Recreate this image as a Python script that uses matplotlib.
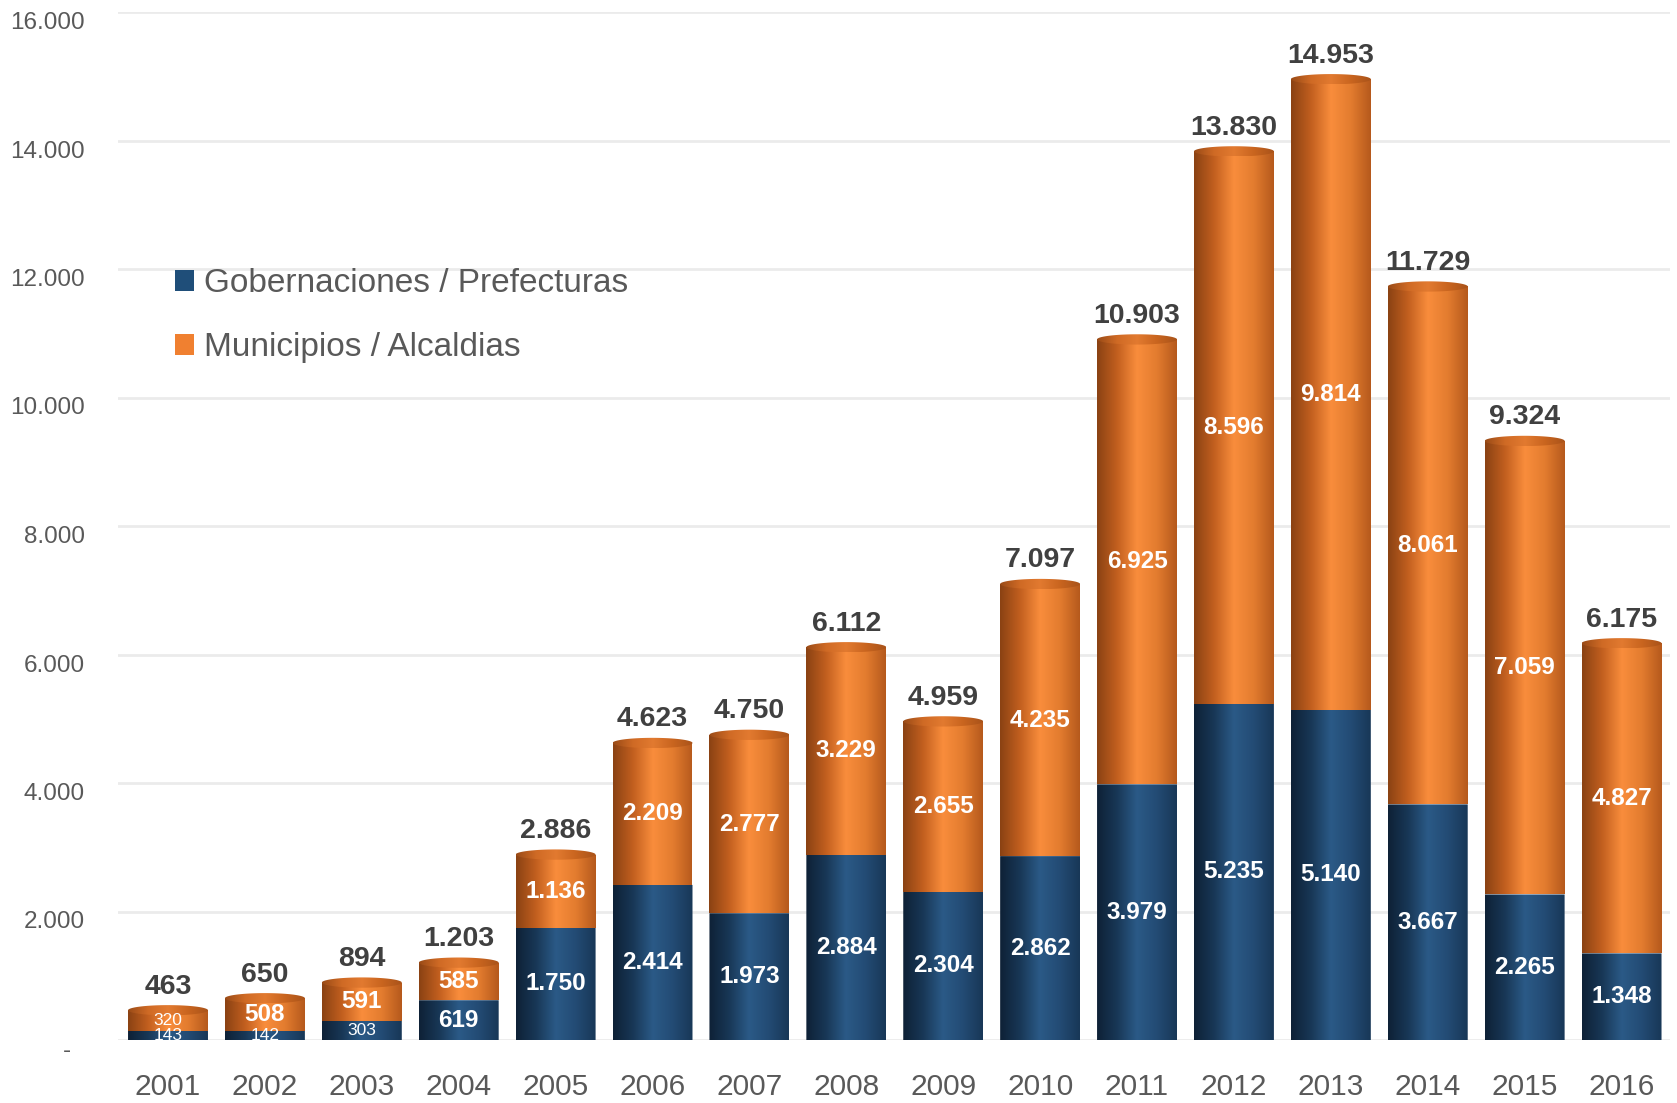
import matplotlib
matplotlib.use("Agg")
import matplotlib.pyplot as plt
import matplotlib.colors as mcolors
import matplotlib.transforms as mtrans
from matplotlib.patches import Polygon, Patch
from matplotlib.ticker import FuncFormatter
import numpy as np

# datos
anios = ['2001', '2002', '2003', '2004', '2005', '2006', '2007', '2008',
         '2009', '2010', '2011', '2012', '2013', '2014', '2015', '2016']
gobernaciones = [143, 142, 303, 619, 1750, 2414, 1973, 2884,
                 2304, 2862, 3979, 5235, 5140, 3667, 2265, 1348]
municipios = [320, 508, 591, 585, 1136, 2209, 2777, 3229,
              2655, 4235, 6925, 8596, 9814, 8061, 7059, 4827]
totales = [463, 650, 894, 1203, 2886, 4623, 4750, 6112,
           4959, 7097, 10903, 13830, 14953, 11729, 9324, 6175]
series_nombres = ['Gobernaciones / Prefecturas', 'Municipios / Alcaldias']

plt.rcParams['font.family'] = ['Liberation Sans', 'DejaVu Sans']

cmap_azul = mcolors.LinearSegmentedColormap.from_list(
    'azul', ['#0E2136', '#183756', '#2B5A87', '#234B74', '#183757'])
cmap_naranja = mcolors.LinearSegmentedColormap.from_list(
    'naranja', ['#8A4213', '#C25F1F', '#F98D3C', '#E37C2F', '#B5591C'])
cmap_tapa = mcolors.LinearSegmentedColormap.from_list(
    'tapa', ['#9A4B17', '#CF6A25', '#E27A30', '#C9651F', '#A9531A'])

fig = plt.figure(figsize=(16.77, 11.03), dpi=100)
ax = fig.add_axes([118 / 1677, 1 - 1040 / 1103, (1670 - 118) / 1677, (1040 - 12) / 1103])

ancho = 0.825
eh = 80  # semi-altura de las elipses (unidades de datos)
grad = np.linspace(0, 1, 256).reshape(1, -1)
t = np.linspace(np.pi, 2 * np.pi, 60)


def cilindro(xc, y0, y1, cmap, con_fondo, z):
    x0, x1 = xc - ancho / 2, xc + ancho / 2
    if con_fondo:
        bx = xc + ancho / 2 * np.cos(t)
        by = y0 + eh * np.sin(t)
        pts = np.column_stack([bx, by])
        pts = np.vstack([pts, [[x1, y1], [x0, y1]]])
        ybot = y0 - eh
    else:
        pts = np.array([[x0, y0], [x1, y0], [x1, y1], [x0, y1]])
        ybot = y0
    clip = Polygon(pts, closed=True, transform=ax.transData)
    im = ax.imshow(grad, extent=[x0, x1, ybot, y1], aspect='auto',
                   cmap=cmap, interpolation='bicubic', zorder=z)
    im.set_clip_path(clip)


def tapa(xc, y, z):
    tt = np.linspace(0, 2 * np.pi, 100)
    pts = np.column_stack([xc + ancho / 2 * np.cos(tt), y + eh * np.sin(tt)])
    clip = Polygon(pts, closed=True, transform=ax.transData)
    im = ax.imshow(grad, extent=[xc - ancho / 2, xc + ancho / 2, y - eh, y + eh],
                   aspect='auto', cmap=cmap_tapa, interpolation='bicubic', zorder=z)
    im.set_clip_path(clip)


def fmt(v):
    return f'{int(v):,}'.replace(',', '.')


x = np.arange(len(anios))
for i in range(len(anios)):
    g, m, tot = gobernaciones[i], municipios[i], totales[i]
    cilindro(x[i], 0, g, cmap_azul, True, 2)
    cilindro(x[i], g, g + m, cmap_naranja, False, 2)
    tapa(x[i], g + m, 3)

    for val, yc in [(g, g / 2), (m, g + m / 2)]:
        if val < 400:
            ax.text(x[i], yc, fmt(val), ha='center', va='center', color='white',
                    fontsize=12.5, zorder=5)
        else:
            ax.text(x[i], yc, fmt(val), ha='center', va='center', color='white',
                    fontsize=17.5, fontweight='bold', zorder=5)

    ax.annotate(fmt(tot), (x[i], tot), xytext=(0, 12),
                textcoords='offset points', ha='center', va='baseline',
                fontsize=20.5, fontweight='bold', color='#404040')

ax.set_xlim(-0.516, 15.5)
ax.set_ylim(0, 16000)
ax.set_yticks(np.arange(0, 16001, 2000))
ax.yaxis.set_major_formatter(FuncFormatter(
    lambda v, p: '-  ' if v == 0 else fmt(v)))
ax.set_xticks(x)
ax.set_xticklabels(anios)
ax.tick_params(axis='y', length=0, pad=24, labelsize=17.5, labelcolor='#595959')
ax.tick_params(axis='x', length=0, pad=24, labelsize=21.5, labelcolor='#595959')
for lbl in ax.get_yticklabels():
    lbl.set_transform(lbl.get_transform() +
                      mtrans.ScaledTranslation(0, -0.085, fig.dpi_scale_trans))

ax.grid(axis='y', color='#EBEBEB', linewidth=2)
ax.set_axisbelow(True)
for s in ax.spines.values():
    s.set_visible(False)

handles = [Patch(facecolor='#1F4E79'), Patch(facecolor='#F08030')]
ax.legend(handles, series_nombres, loc='upper left',
          bbox_to_anchor=(175 / 1677, 1 - 268 / 1103), bbox_transform=fig.transFigure,
          frameon=False, fontsize=24, labelcolor='#595959',
          handlelength=0.58, handleheight=0.58, handletextpad=0.3,
          labelspacing=1.0, borderpad=0, borderaxespad=0)

plt.savefig('out.png', dpi=100)
plt.close()
